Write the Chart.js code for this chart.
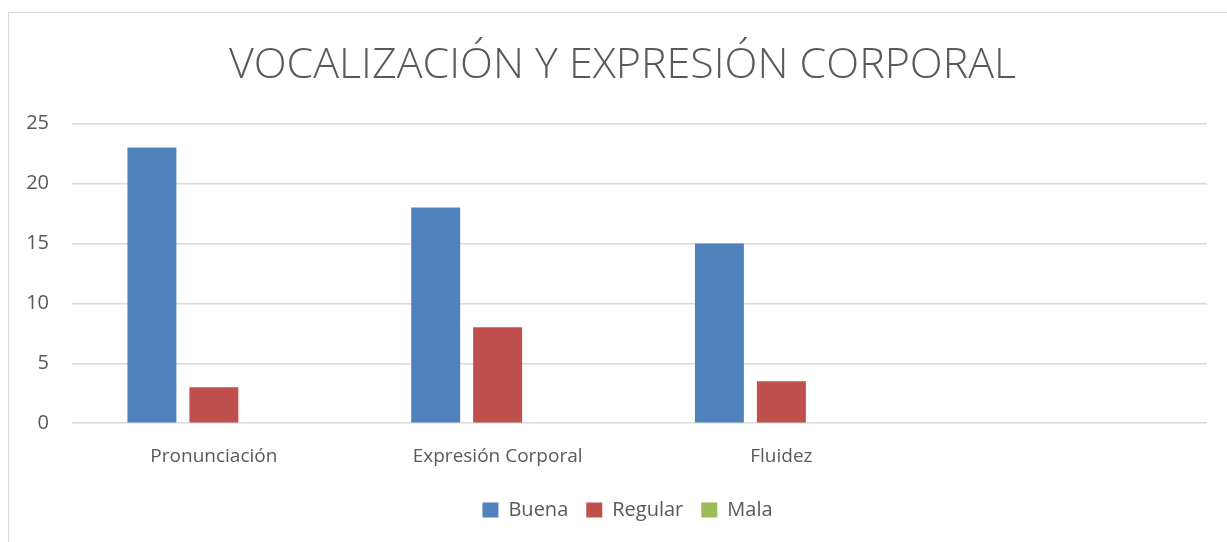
<!DOCTYPE html>
<html>
<head>
<meta charset="utf-8">
<script src="https://cdn.jsdelivr.net/npm/chart.js@4/dist/chart.umd.min.js"></script>
<style>
html,body{margin:0;padding:0;background:#fff;}
#wrap{position:relative;width:1227px;height:542px;overflow:hidden;}
#frame{position:absolute;left:8px;top:12px;width:1240px;height:560px;border:1px solid #d9d9d9;box-sizing:border-box;}
canvas{position:absolute;left:0;top:0;}
</style>
</head>
<body>
<div id="wrap">
<div id="frame"></div>
<canvas id="c" width="1227" height="542"></canvas>
</div>
<script>
const categories = ['Pronunciación', 'Expresión Corporal', 'Fluidez', ''];
const buena = [23, 18, 15, null];
const regular = [3, 8, 3.5, null];
const mala = [0, 0, 0, null];
const yTicks = [0, 5, 10, 15, 20, 25];
const titleText = 'VOCALIZACIÓN Y EXPRESIÓN CORPORAL';

const FONT = '"Open Sans", sans-serif';
const TXT = '#595959';

const shiftPlugin = {
  id: 'shiftBlocks',
  afterLayout(chart) {
    const t = chart.titleBlock;
    if (t) { t.left += 15; t.right += 15; }
    const l = chart.legend;
    if (l) { l.left += 20; l.right += 20; }
  }
};

new Chart(document.getElementById('c'), {
  type: 'bar',
  data: {
    labels: categories,
    datasets: [
      {label: 'Buena', data: buena, backgroundColor: '#4F81BD'},
      {label: 'Regular', data: regular, backgroundColor: '#C0504D'},
      {label: 'Mala', data: mala, backgroundColor: '#9BBB59'}
    ]
  },
  plugins: [shiftPlugin],
  options: {
    responsive: false,
    animation: false,
    events: [],
    datasets: {bar: {categoryPercentage: 0.655, barPercentage: 0.79}},
    layout: {padding: {left: 8, right: 20, top: 0, bottom: 12}},
    plugins: {
      title: {
        display: true,
        text: titleText,
        color: TXT,
        font: {family: FONT, size: 43, weight: '300'},
        padding: {top: 40, bottom: 32}
      },
      legend: {
        position: 'bottom',
        labels: {
          color: TXT,
          font: {family: FONT, size: 20},
          boxWidth: 16,
          boxHeight: 15,
          padding: 18
        }
      },
      tooltip: {enabled: false}
    },
    scales: {
      x: {
        grid: {display: false},
        border: {display: false},
        ticks: {color: TXT, font: {family: FONT, size: 19}, padding: 14}
      },
      y: {
        min: 0,
        max: 25,
        afterBuildTicks: (s) => { s.ticks = yTicks.map(v => ({value: v})); },
        afterFit: (s) => { s.width = 64; },
        grid: {color: '#d9d9d9', lineWidth: 1.5, drawTicks: false},
        border: {display: false},
        ticks: {color: TXT, font: {family: FONT, size: 20}, padding: 23}
      }
    }
  }
});
</script>
</body>
</html>
